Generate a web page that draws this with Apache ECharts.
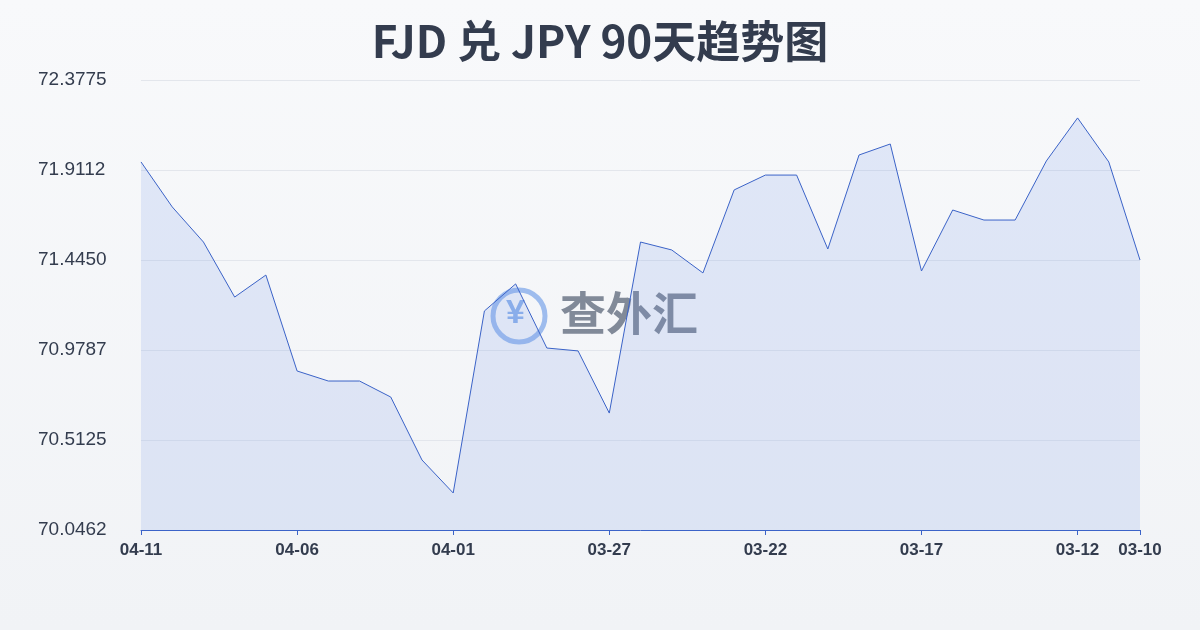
<!DOCTYPE html>
<html lang="zh">
<head>
<meta charset="UTF-8">
<title>FJD 兑 JPY 90天趋势图</title>
<style>
  html, body { margin: 0; padding: 0; }
  #chart { width: 1200px; height: 630px; }
</style>
</head>
<body>
<div id="chart"></div>
<script src="https://cdn.jsdelivr.net/npm/echarts@6/dist/echarts.min.js"></script>
<script>
var dates = ['04-11','04-10','04-09','04-08','04-07','04-06','04-05','04-04','04-03','04-02','04-01',
  '03-31','03-30','03-29','03-28','03-27','03-26','03-25','03-24','03-23','03-22','03-21','03-20',
  '03-19','03-18','03-17','03-16','03-15','03-14','03-13','03-12','03-11','03-10'];
var rates = [71.953, 71.720, 71.538, 71.253, 71.367, 70.870, 70.818, 70.818, 70.735, 70.409, 70.238,
  71.181, 71.321, 70.989, 70.974, 70.652, 71.538, 71.497, 71.378, 71.808, 71.885, 71.885, 71.502,
  71.989, 72.046, 71.388, 71.704, 71.652, 71.652, 71.958, 72.181, 71.953, 71.445];
var yMin = 70.0462, yMax = 72.3775;
var yStep = (yMax - yMin) / 5;

var chart = echarts.init(document.getElementById('chart'));
chart.setOption({
  backgroundColor: new echarts.graphic.LinearGradient(0, 0, 0, 1, [
    { offset: 0, color: '#f8f9fb' }, { offset: 1, color: '#f1f3f6' }
  ]),
  title: {
    text: 'FJD 兑 JPY 90天趋势图',
    left: 'center', top: 14,
    textStyle: { fontSize: 44, fontWeight: 'bold', color: '#333c4e', fontFamily: 'Noto Sans CJK SC' }
  },
  graphic: [{
    type: 'text', left: 560, top: 290,
    style: { text: '查外汇', fontSize: 46, fontWeight: 'bold', fill: 'rgba(85,95,115,0.72)', fontFamily: 'Noto Sans CJK SC' }
  }, {
    type: 'circle', shape: { cx: 519, cy: 316, r: 26 },
    style: { fill: 'none', stroke: 'rgba(100,150,230,0.6)', lineWidth: 5 }
  }, {
    type: 'text', left: 506, top: 297,
    style: { text: '¥', fontSize: 34, fontWeight: 'bold', fill: 'rgba(100,150,230,0.7)' }
  }],
  grid: { left: 141, right: 60, top: 80, bottom: 100 },
  xAxis: {
    type: 'category', data: dates, boundaryGap: false,
    axisLine: { lineStyle: { color: '#3b63c8' } },
    axisTick: { show: true, interval: function (i) { return i % 5 === 0 || i === dates.length - 1; }, lineStyle: { color: '#3b63c8' } },
    axisLabel: {
      interval: function (i) { return i % 5 === 0 || i === dates.length - 1; },
      color: '#333c4e', fontSize: 17, fontWeight: 'bold', margin: 12
    }
  },
  yAxis: {
    type: 'value', min: yMin, max: yMax, interval: yStep,
    axisLine: { show: false }, axisTick: { show: false },
    splitLine: { lineStyle: { color: '#e3e6ec' } },
    axisLabel: {
      formatter: function (v) { return v.toFixed(4); },
      color: '#333c4e', fontSize: 19, fontWeight: 500, margin: 0,
      align: 'left', verticalAlign: 'middle', padding: [0, 0, 4, -103]
    }
  },
  series: [{
    type: 'line', data: rates, symbol: 'none',
    lineStyle: { color: '#3b63c8', width: 1 },
    areaStyle: { color: 'rgba(110,150,230,0.24)' }
  }]
});
</script>
</body>
</html>
